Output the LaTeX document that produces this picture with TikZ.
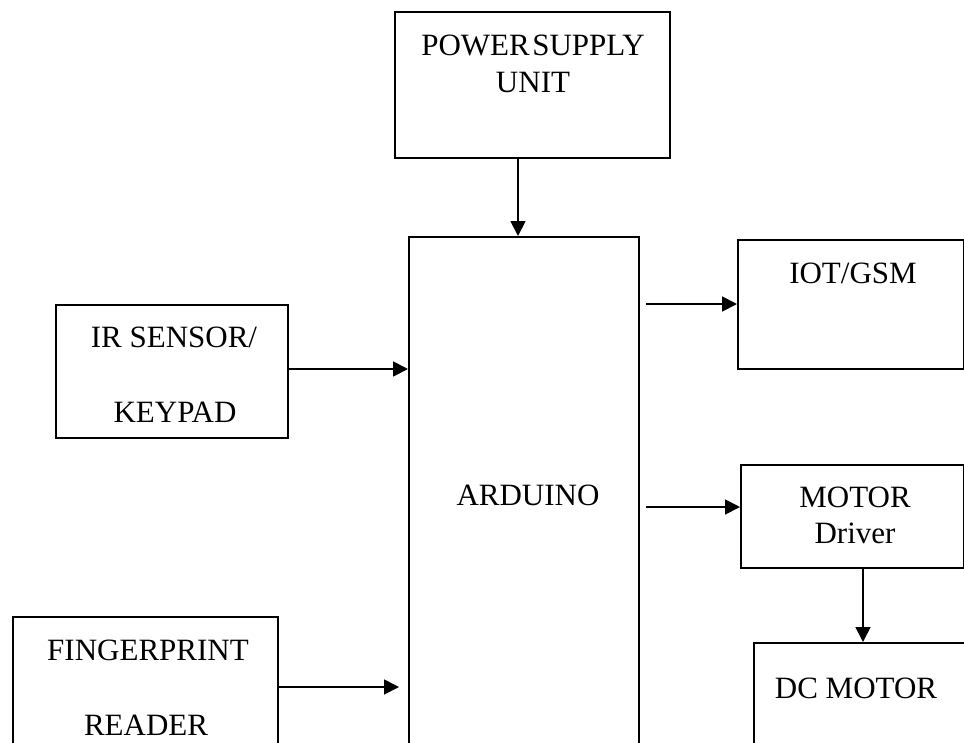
\documentclass[tikz,border=0pt]{standalone}
\usepackage{fontspec}
\setmainfont{Liberation Serif}
\usetikzlibrary{arrows.meta}
\begin{document}
\begin{tikzpicture}[x=1pt,y=-1pt,
  box/.style={draw=black, line width=2.2pt, fill=none, inner sep=0pt, anchor=north west},
  lbl/.style={inner sep=0pt, anchor=base, font=\fontsize{31}{37}\selectfont},
  arr/.style={line width=1.8pt, -{Triangle[length=15pt,width=15pt]}}]
\useasboundingbox (0,0) rectangle (964,742);
\clip (0,0) rectangle (964,742);
\fill[white] (0,0) rectangle (964,742);
% boxes
\node[box, minimum width=275pt, minimum height=146pt] (psu) at (394,11) {};
\node[box, minimum width=230pt, minimum height=560pt] (ard) at (408,236) {};
\node[box, minimum width=232pt, minimum height=133pt] (ir) at (55,304) {};
\node[box, minimum width=265pt, minimum height=144pt] (fp) at (12,616) {};
\node[box, minimum width=226pt, minimum height=129pt] (iot) at (737,239) {};
\node[box, minimum width=223pt, minimum height=103pt] (md) at (740,464) {};
\node[box, minimum width=260pt, minimum height=160pt] (dc) at (753,642) {};
% labels
\node[lbl] (t1) at (533,55) {POWER\hspace{0.08em}SUPPLY};
\node[lbl] (t2) at (533,92) {UNIT};
\node[lbl] (t3) at (528,505) {ARDUINO};
\node[lbl] (t4) at (174,347) {IR SENSOR/};
\node[lbl] (t5) at (175,422) {KEYPAD};
\node[lbl] (t6) at (148,660) {FINGERPRINT};
\node[lbl] (t7) at (146,735) {READER};
\node[lbl] (t8) at (853,283) {IOT/GSM};
\node[lbl] (t9) at (855,507) {MOTOR};
\node[lbl] (t10) at (855,543) {Driver};
\node[lbl] (t11) at (856,698) {DC MOTOR};
% connectors
\coordinate (p1) at (518,157);
\draw[arr] (p1) -- (p1 |- ard.north);
\coordinate (p2) at (287,369);
\draw[arr] (p2) -- (p2 -| ard.west);
\coordinate (p3) at (277,687);
\coordinate (p3e) at (399,687);
\draw[arr] (p3) -- (p3e);
\coordinate (p4) at (646,304);
\draw[arr] (p4) -- (p4 -| iot.west);
\coordinate (p5) at (646,507);
\draw[arr] (p5) -- (p5 -| md.west);
\coordinate (p6) at (863,567);
\draw[arr] (p6) -- (p6 |- dc.north);
\end{tikzpicture}
\end{document}
